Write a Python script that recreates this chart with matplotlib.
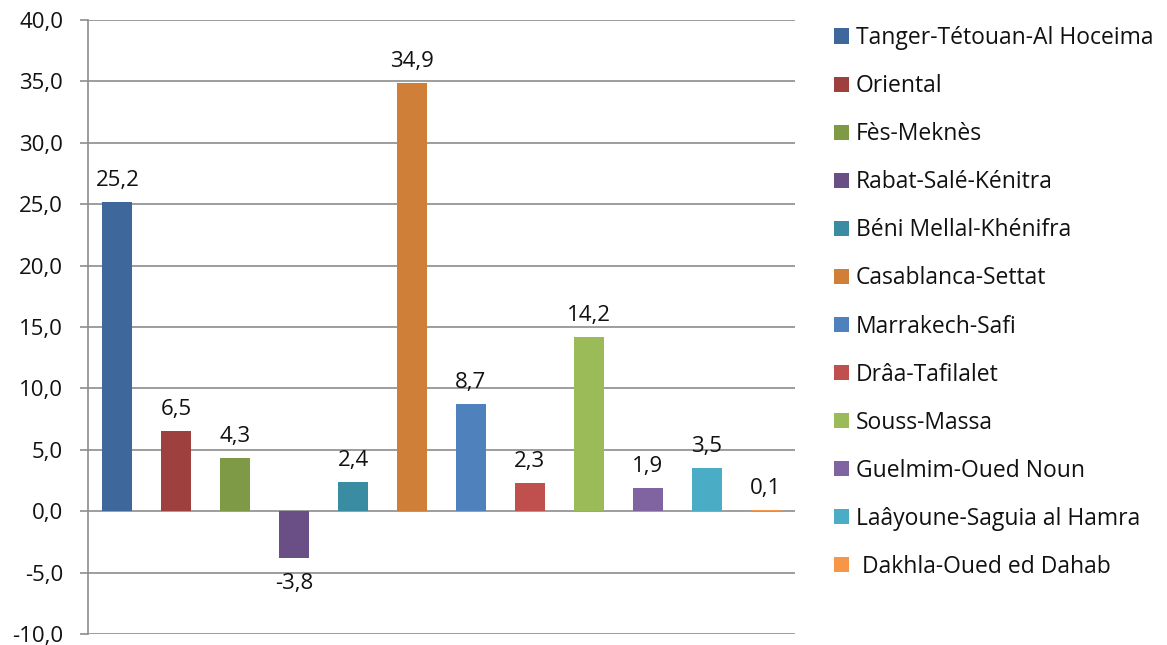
import matplotlib
matplotlib.use("Agg")
import matplotlib.pyplot as plt
from matplotlib.patches import Patch

regions = ["Tanger-Tétouan-Al Hoceima", "Oriental", "Fès-Meknès", "Rabat-Salé-Kénitra",
           "Béni Mellal-Khénifra", "Casablanca-Settat", "Marrakech-Safi", "Drâa-Tafilalet",
           "Souss-Massa", "Guelmim-Oued Noun", "Laâyoune-Saguia al Hamra", " Dakhla-Oued ed Dahab"]
values = [25.2, 6.5, 4.3, -3.8, 2.4, 34.9, 8.7, 2.3, 14.2, 1.9, 3.5, 0.1]
colors = ["#3E689B", "#9E403D", "#7F9A47", "#6A4F87", "#3A8CA3", "#D07F38",
          "#4F81BD", "#C0504D", "#9BBB59", "#8064A2", "#4BACC6", "#F79646"]
yticks = [-10, -5, 0, 5, 10, 15, 20, 25, 30, 35, 40]

plt.rcParams['font.family'] = ['Open Sans', 'DejaVu Sans']

fig = plt.figure(figsize=(11.67, 6.45), dpi=100)
ax = fig.add_axes([88/1167, 11/645, (795-88)/1167, (634-20)/645])

x = list(range(len(values)))
ax.bar(x, values, width=0.51, color=colors, zorder=3)
for xi, v in zip(x, values):
    lab = f"{v:.1f}".replace(".", ",")
    if v >= 0:
        ax.annotate(lab, (xi, v), xytext=(0, 8), textcoords="offset points",
                    ha="center", va="bottom", fontsize=16, color="#111111")
    else:
        ax.annotate(lab, (xi, v), xytext=(0, -11), textcoords="offset points",
                    ha="center", va="top", fontsize=16, color="#111111")

ax.set_xlim(-0.5, len(values) - 0.5)
ax.set_ylim(-10, 40)
ax.set_yticks(yticks)
ax.set_yticklabels([f"{t:.1f}".replace(".", ",") for t in yticks], fontsize=16, color="#111111")
ax.set_xticks([])
ax.yaxis.grid(True, color="#8C8C8C", linewidth=1.2, zorder=0)
for s in ["top", "right", "bottom"]:
    ax.spines[s].set_visible(False)
ax.spines["left"].set_color("#8C8C8C")
ax.spines["left"].set_linewidth(1.2)
ax.tick_params(axis="y", length=6, color="#8C8C8C", width=1.2, pad=12)

handles = [Patch(facecolor=c, label=r) for c, r in zip(colors, regions)]
leg = fig.legend(handles=handles, loc="upper left", bbox_to_anchor=(825/1167, 1 - 17/645),
                 frameon=False, fontsize=16.5, handlelength=0.65, handleheight=0.65,
                 handletextpad=0.3, labelspacing=1.05, borderaxespad=0)
for t in leg.get_texts():
    t.set_color("#111111")

fig.savefig("out.png", dpi=100)
